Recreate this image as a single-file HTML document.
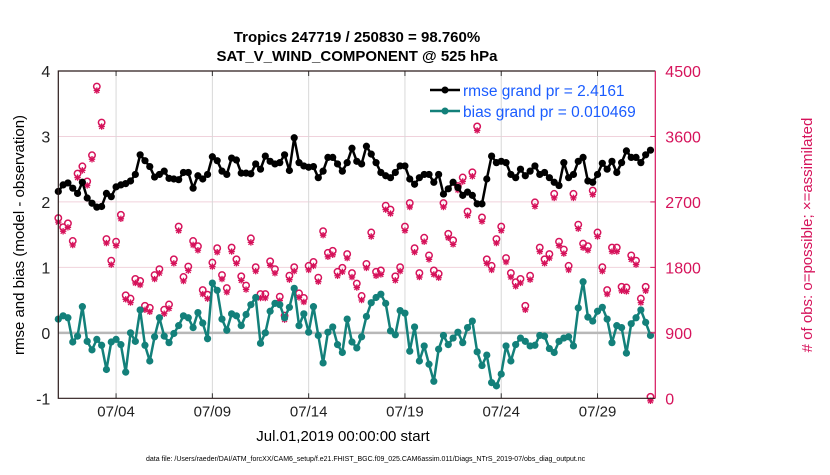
<!DOCTYPE html>
<html><head><meta charset="utf-8"><style>
body{margin:0;background:#fff;width:830px;height:470px;overflow:hidden}
svg text{font-family:"Liberation Sans",Arial,sans-serif}
</style></head><body>
<svg id="chart" width="830" height="470" xmlns="http://www.w3.org/2000/svg">
<rect width="830" height="470" fill="#fff"/>
<text x="357" y="42" text-anchor="middle" font-size="15" font-weight="bold">Tropics 247719 / 250830 = 98.760%</text>
<text x="357" y="61" text-anchor="middle" font-size="15" font-weight="bold">SAT_V_WIND_COMPONENT @ 525 hPa</text>
<g id="grid"></g>
<g id="obs"></g>
<g id="series"></g>
<g id="axes"></g>
<g>
<line x1="430" y1="90" x2="460" y2="90" stroke="#000" stroke-width="2.5"/><circle cx="445" cy="90" r="3.5" fill="#000"/>
<text x="463" y="96" font-size="15.5" fill="#1a5cff">rmse grand pr = 2.4161</text>
<line x1="430" y1="111" x2="460" y2="111" stroke="#13807a" stroke-width="2.5"/><circle cx="445" cy="111" r="3.5" fill="#13807a"/>
<text x="463" y="117" font-size="15.5" fill="#1a5cff">bias grand pr = 0.010469</text>
</g>
<text transform="translate(24,235) rotate(-90)" text-anchor="middle" font-size="15">rmse and bias (model - observation)</text>
<text transform="translate(812,235) rotate(-90)" text-anchor="middle" font-size="15" fill="#d6135b"># of obs: o=possible; ×=assimilated</text>
<text x="343" y="441" text-anchor="middle" font-size="15">Jul.01,2019 00:00:00 start</text>
<text x="146" y="461" font-size="7">data file: /Users/raeder/DAI/ATM_forcXX/CAM6_setup/f.e21.FHIST_BGC.f09_025.CAM6assim.011/Diags_NTrS_2019-07/obs_diag_output.nc</text>
</svg>
<script>
const rmse=[2.16,2.26,2.29,2.21,2.13,2.30,2.06,1.98,1.92,1.93,2.13,2.08,2.23,2.26,2.28,2.32,2.42,2.72,2.63,2.54,2.38,2.42,2.47,2.36,2.35,2.34,2.45,2.45,2.21,2.40,2.35,2.42,2.69,2.63,2.47,2.42,2.67,2.64,2.44,2.44,2.43,2.58,2.50,2.70,2.62,2.58,2.60,2.72,2.48,2.98,2.60,2.55,2.53,2.54,2.37,2.47,2.68,2.68,2.58,2.47,2.60,2.82,2.62,
2.58,2.85,2.73,2.60,2.45,2.40,2.37,2.45,2.55,2.55,2.35,2.27,2.37,2.42,2.42,2.30,2.42,2.12,2.20,2.30,2.22,2.10,2.15,2.10,1.97,1.97,2.35,2.70,2.60,2.62,2.60,2.42,2.37,2.50,2.40,2.47,2.55,2.42,2.45,2.37,2.30,2.25,2.60,2.37,2.42,2.62,2.68,2.32,2.30,2.42,2.59,2.50,2.62,2.45,2.60,2.78,2.68,2.68,2.60,2.72,2.79];
const bias=[0.21,0.26,0.23,-0.14,-0.05,0.40,-0.13,-0.26,-0.10,-0.19,-0.56,-0.14,-0.10,-0.18,-0.60,0.0,-0.13,0.35,-0.19,-0.43,-0.06,0.23,-0.05,-0.15,-0.01,0.11,0.26,0.23,0.08,0.31,0.15,-0.09,0.76,0.65,0.21,0.04,0.29,0.26,0.11,0.28,0.43,0.54,-0.16,0.0,0.33,0.45,0.43,0.23,0.39,0.68,0.11,0.29,0.01,0.40,-0.04,-0.46,0.01,0.09,-0.18,-0.30,0.21,-0.14,-0.23,
-0.06,0.25,0.46,0.54,0.59,0.45,0.03,-0.03,0.34,0.30,-0.28,0.09,-0.43,-0.20,-0.48,-0.74,-0.25,-0.04,-0.18,-0.08,0.01,-0.15,0.08,0.18,-0.29,-0.50,-0.34,-0.76,-0.81,-0.63,-0.20,-0.43,-0.18,-0.08,-0.13,-0.20,-0.19,-0.04,-0.05,-0.24,-0.30,-0.13,-0.08,-0.06,-0.20,0.38,0.78,0.24,0.18,0.33,0.39,0.21,-0.15,0.11,0.08,-0.31,0.14,0.23,0.35,0.16,-0.04];
const obsCounts=[2457,2331,2385,2142,3069,3168,2961,3321,4266,3771,2169,1872,2133,2502,1395,1350,1620,1593,1251,1224,1674,1755,1197,1269,1890,2340,1647,1791,2142,2070,1467,1404,1845,2043,1674,1494,2052,1890,1656,1530,2178,1782,1413,1413,1863,1755,1377,1116,1665,1782,1422,1359,1800,1854,1638,2277,1980,2007,1719,1773,1962,1701,1557,
1386,1827,2259,1719,1737,2628,2574,1656,1782,2340,2664,2043,1701,2187,1944,1737,1692,2664,2241,2151,2898,3015,2547,3087,3717,2466,1890,1800,2169,2340,1908,1701,1575,1620,1251,1665,2673,2052,1890,1962,2790,2133,2025,1800,2790,2367,2106,2070,2835,2259,1782,1467,2052,2052,1512,1503,1944,1872,1350,1512,0];
const xTickDays=[4,9,14,19,24,29];
const xTickLabels=["07/04","07/09","07/14","07/19","07/24","07/29"];
const yTicksLeft=[-1,0,1,2,3,4];
const yTicksRight=[0,900,1800,2700,3600,4500];

const NS="http://www.w3.org/2000/svg";
const X0=58.3,X1=655.3,Y0=71,Y1=398.3,D0=1,D1=32;
const xDay=d=>X0+(d-D0)*(X1-X0)/(D1-D0);
const xIdx=i=>xDay(1+i*0.25);
const yL=v=>Y1-(v+1)*(Y1-Y0)/5;
const yR=c=>Y1-c*(Y1-Y0)/4500;
function mk(tag,attrs,parent){const e=document.createElementNS(NS,tag);for(const k in attrs)e.setAttribute(k,attrs[k]);parent.appendChild(e);return e;}
const grid=document.getElementById('grid'),axes=document.getElementById('axes'),ser=document.getElementById('series'),obs=document.getElementById('obs');
yTicksLeft.forEach(v=>{
 if(v>-1&&v<4&&v!==0){const l=mk('line',{x1:X0,x2:X1,y1:yL(v),y2:yL(v),stroke:'#f0d2dc','stroke-width':1},grid);
 
 }
 const t=mk('text',{x:X0-8,y:yL(v)+6,'text-anchor':'end','font-size':16,fill:'#222'},axes);t.textContent=v;
 
 
});
xTickDays.forEach((d,i)=>{
 const l=mk('line',{x1:xDay(d),x2:xDay(d),y1:Y0,y2:Y1,stroke:'#d8d8d8','stroke-width':1},grid);
 
 
 mk('line',{x1:xDay(d),x2:xDay(d),y1:Y1,y2:Y1-5,stroke:'#333'},axes);
 mk('line',{x1:xDay(d),x2:xDay(d),y1:Y0,y2:Y0+5,stroke:'#333'},axes);
 const t=mk('text',{x:xDay(d),y:Y1+18,'text-anchor':'middle','font-size':15,fill:'#222'},axes);t.textContent=xTickLabels[i];
 
 
});
const zl=mk('line',{x1:X0,x2:X1,y1:yL(0),y2:yL(0),stroke:'#b8b8b8','stroke-width':2.5},grid);


yTicksRight.forEach(c=>{
 mk('line',{x1:X1,x2:X1-5,y1:yR(c),y2:yR(c),stroke:'#d6135b'},axes);
 const t=mk('text',{x:X1+10,y:yR(c)+6,'font-size':16,fill:'#d6135b'},axes);t.textContent=c;
 
 
});
mk('path',{d:`M${X1},${Y0}H${X0}V${Y1}H${X1}`,fill:'none',stroke:'#2a1a1a','stroke-width':1.2},axes);
mk('line',{x1:X1,x2:X1,y1:Y0,y2:Y1,stroke:'#d6135b','stroke-width':1.2},axes);
obsCounts.forEach((c,i)=>{
 const g=mk('g',{},obs);
 
 
 const x=xIdx(i),y=yR(c),sy=y+2.5,s=3.2;
 mk('path',{d:`M${x-s},${sy}H${x+s}M${x},${sy-s}V${sy+s}M${x-s*0.75},${sy-s*0.75}L${x+s*0.75},${sy+s*0.75}M${x-s*0.75},${sy+s*0.75}L${x+s*0.75},${sy-s*0.75}`,stroke:'#d6135b','stroke-width':1.3,fill:'none'},g);
 mk('circle',{cx:x,cy:y-1.5,r:3.2,fill:'none',stroke:'#d6135b','stroke-width':1.5},g);
});
function drawSeries(vals,color,name){
 const p=mk('polyline',{points:vals.map((v,i)=>xIdx(i)+','+yL(v)).join(' '),fill:'none',stroke:color,'stroke-width':2.5,'stroke-linejoin':'round'},ser);
 
 
 vals.forEach((v,i)=>{const c=mk('circle',{cx:xIdx(i),cy:yL(v),r:3.6,fill:color},ser);
 
 });
}
drawSeries(rmse,'#000','rmse');
drawSeries(bias,'#13807a','bias');
</script>
</body></html>
